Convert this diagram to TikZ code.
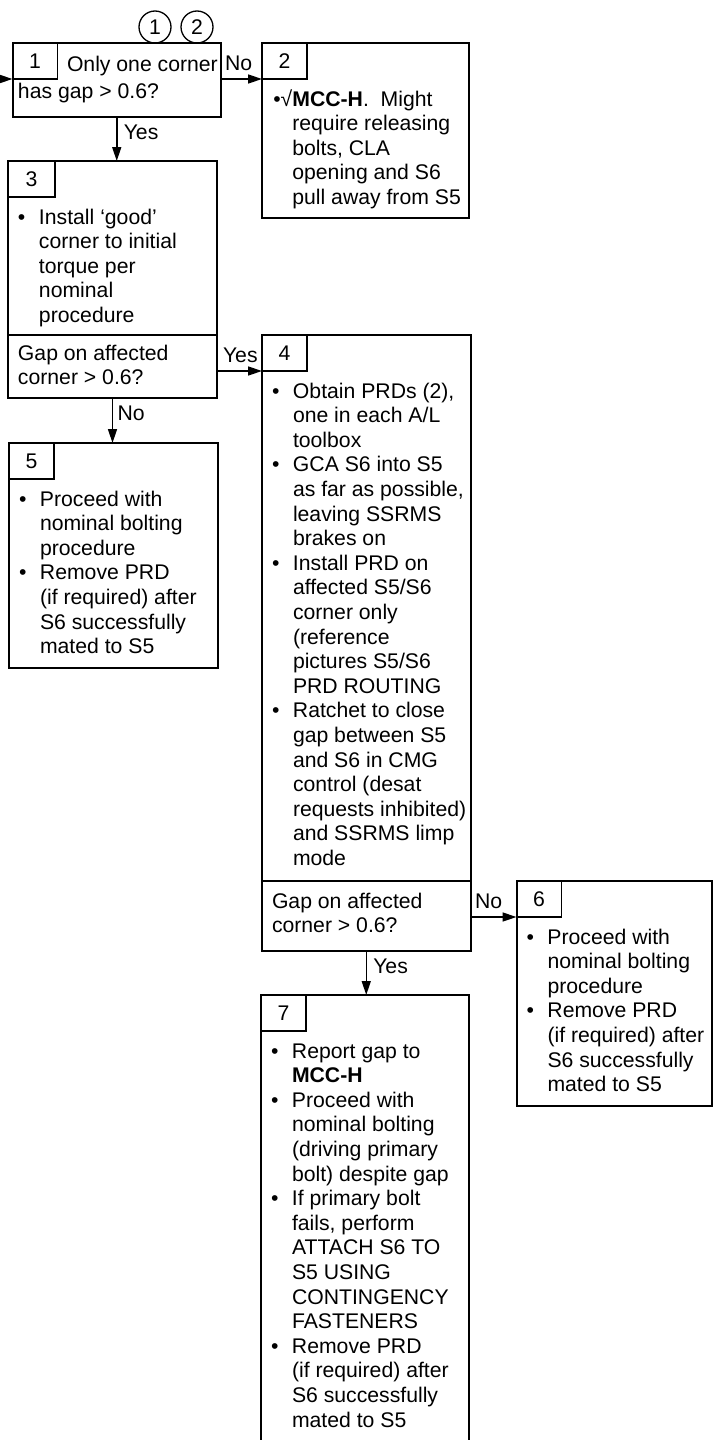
\documentclass[tikz,border=0pt]{standalone}
\usepackage{fontspec}
\setmainfont{Liberation Sans}
\usepackage{tikz}
\usetikzlibrary{arrows.meta,calc,positioning}
\newcommand{\blist}[1]{\begin{tabular}[t]{@{}p{10.5pt}@{}l@{}}#1\end{tabular}}
\newcommand{\qtext}[1]{\begin{tabular}[t]{@{}l@{}}#1\end{tabular}}
\tikzset{
  flowarrow/.style={-{Triangle[length=7pt,width=4.5pt]},line width=0.75pt},
  stepbox/.style={draw,line width=1pt,anchor=north west,inner sep=0pt,outer sep=0pt},
  numbox/.style={draw,line width=0.75pt,anchor=north west,minimum width=22.5pt,minimum height=18pt,inner sep=0pt,outer sep=0pt},
  bodytext/.style={anchor=base west,inner sep=0pt,outer sep=0pt},
  lbl/.style={anchor=base west,inner sep=0pt,outer sep=0pt},
  refcircle/.style={circle,draw,line width=0.65pt,minimum size=16pt,inner sep=0pt,outer sep=0pt}
}
\begin{document}
\begin{tikzpicture}[font=\fontsize{10.6}{12.3}\selectfont]
  \useasboundingbox (0,0) rectangle (356.5pt,-720pt);
  \clip (0,0) rectangle (356.5pt,-720pt);

  % question 1 and its references
  \node[stepbox,minimum width=104.25pt,minimum height=37pt] (q1) at (6.25pt,-21.5pt) {};
  \node[numbox] (n1) at (q1.north west) {1};
  \node[refcircle,above=0pt of q1.north west,xshift=71.25pt] (c1) {1};
  \node[refcircle,right=5pt of c1] (c2) {2};
  \node[bodytext] (t1a) at ($(n1.north east)+(4.75pt,-14pt)$) {Only one corner};
  \node[bodytext] (t1b) at ($(q1.north west)+(2.75pt,-27.5pt)$) {has gap > 0.6?};
  \coordinate (entry) at (0,0 |- n1.south west);

  % block 2
  \node[stepbox,minimum width=103.5pt,minimum height=87.5pt,right=20.5pt of q1.north east,anchor=north west] (q2) {};
  \node[numbox] (n2) at (q2.north west) {2};
  \node[bodytext] (t2) at ($(n2.south west)+(5.65pt,-13.5pt)$) {\begin{tabular}[t]{@{}l@{}l@{}}\textbullet√ & \textbf{MCC-H}.\ \ Might\\ & require releasing\\ & bolts, CLA\\ & opening and S6\\ & pull away from S5\end{tabular}};

  % block 3 with its question
  \node[stepbox,minimum width=104.5pt,minimum height=87pt,below=22pt of q1.south west,anchor=north west,xshift=-2.25pt] (q3) {};
  \node[stepbox,minimum width=104.5pt,minimum height=31.5pt,below=0pt of q3.south west,anchor=north west] (q3q) {};
  \node[numbox,minimum width=23.5pt] (n3) at (q3.north west) {3};
  \node[bodytext] (t3) at ($(n3.south west)+(5pt,-13.5pt)$) {\blist{\textbullet & Install ‘good’\\ & corner to initial\\ & torque per\\ & nominal\\ & procedure}};
  \node[bodytext] (t3q) at ($(q3q.north west)+(5pt,-12.5pt)$) {\qtext{Gap on affected\\corner > 0.6?}};

  % block 4 with its question
  \node[stepbox,minimum width=104.25pt,minimum height=273pt,right=22.5pt of q3.south east,anchor=north west] (q4) {};
  \node[stepbox,minimum width=104.25pt,minimum height=35pt,below=0pt of q4.south west,anchor=north west] (q4q) {};
  \node[numbox] (n4) at (q4.north west) {4};
  \node[bodytext] (t4) at ($(n4.south west)+(5pt,-13.5pt)$) {\blist{\textbullet & Obtain PRDs (2),\\ & one in each A/L\\ & toolbox\\
    \textbullet & GCA S6 into S5\\ & as far as possible,\\ & leaving SSRMS\\ & brakes on\\
    \textbullet & Install PRD on\\ & affected S5/S6\\ & corner only\\ & (reference\\ & pictures S5/S6\\ & PRD ROUTING\\
    \textbullet & Ratchet to close\\ & gap between S5\\ & and S6 in CMG\\ & control (desat\\ & requests inhibited)\\ & and SSRMS limp\\ & mode}};
  \node[bodytext] (t4q) at ($(q4q.north west)+(5pt,-13.5pt)$) {\qtext{Gap on affected\\corner > 0.6?}};

  % block 5
  \node[stepbox,minimum width=104.5pt,minimum height=112.5pt,below=22.5pt of q3q.south west,anchor=north west,xshift=0.5pt] (q5) {};
  \node[numbox] (n5) at (q5.north west) {5};
  \node[bodytext] (t5) at ($(n5.south west)+(5pt,-13.5pt)$) {\blist{\textbullet & Proceed with\\ & nominal bolting\\ & procedure\\
    \textbullet & Remove PRD\\ & (if required) after\\ & S6 successfully\\ & mated to S5}};

  % block 6
  \node[stepbox,minimum width=97.75pt,minimum height=112.5pt,right=23pt of q4q.north east,anchor=north west] (q6) {};
  \node[numbox] (n6) at (q6.north west) {6};
  \node[bodytext] (t6) at ($(n6.south west)+(5pt,-13.5pt)$) {\blist{\textbullet & Proceed with\\ & nominal bolting\\ & procedure\\
    \textbullet & Remove PRD\\ & (if required) after\\ & S6 successfully\\ & mated to S5}};

  % block 7
  \node[stepbox,minimum width=104pt,minimum height=232pt,below=22pt of q4q.south west,anchor=north west,xshift=-0.5pt] (q7) {};
  \node[numbox] (n7) at (q7.north west) {7};
  \node[bodytext] (t7) at ($(n7.south west)+(5pt,-13.5pt)$) {\blist{\textbullet & Report gap to\\ & \textbf{MCC-H}\\
    \textbullet & Proceed with\\ & nominal bolting\\ & (driving primary\\ & bolt) despite gap\\
    \textbullet & If primary bolt\\ & fails, perform\\ & ATTACH S6 TO\\ & S5 USING\\ & CONTINGENCY\\ & FASTENERS\\
    \textbullet & Remove PRD\\ & (if required) after\\ & S6 successfully\\ & mated to S5}};

  % connectors
  \draw[flowarrow] (entry) -- (n1.south west);
  \draw[flowarrow] (q1.east |- n2.south west) -- node[lbl,pos=0,xshift=2pt,yshift=4.5pt] {No} (n2.south west);
  \draw[flowarrow] (q1.south) -- node[lbl,pos=0,xshift=3.5pt,yshift=-11.25pt] {Yes} (q1.south |- q3.north);
  \draw[flowarrow] (q3q.east |- n4.south west) -- node[lbl,pos=0,xshift=3pt,yshift=4.5pt] {Yes} (n4.south west);
  \draw[flowarrow] (q3q.south) -- node[lbl,pos=0,xshift=2.5pt,yshift=-11.25pt] {No} (q3q.south |- q5.north);
  \draw[flowarrow] (q4q.east |- n6.south west) -- node[lbl,pos=0,xshift=2.25pt,yshift=4.5pt] {No} (n6.south west);
  \draw[flowarrow] (q4q.south) -- node[lbl,pos=0,xshift=3.5pt,yshift=-11.25pt] {Yes} (q4q.south |- q7.north);
\end{tikzpicture}
\end{document}
